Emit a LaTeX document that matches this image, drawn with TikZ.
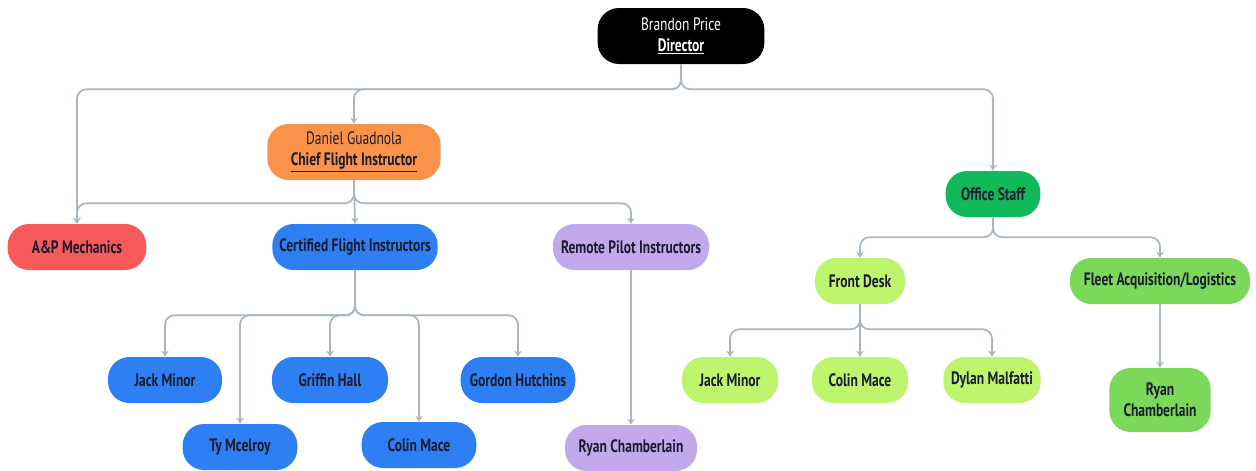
\documentclass[tikz,border=0pt]{standalone}
\usepackage{fontspec}
\setmainfont{PT Sans}[FakeStretch=0.75]
\usetikzlibrary{arrows.meta}
\definecolor{txt}{HTML}{1B1B2F}
\definecolor{lc}{HTML}{AAB6C0}
\definecolor{orng}{HTML}{F9934A}
\definecolor{rd}{HTML}{F75A5A}
\definecolor{bl}{HTML}{2D7FF3}
\definecolor{lav}{HTML}{C3A9EC}
\definecolor{dgrn}{HTML}{10B95A}
\definecolor{lgrn}{HTML}{BEF56C}
\definecolor{mgrn}{HTML}{7BD858}
\begin{document}
\begin{tikzpicture}[x=0.75pt,y=-0.75pt,
  box/.style={rounded corners=16pt, minimum height=34.5pt, inner sep=2pt, align=center,
    font=\bfseries\fontsize{13.5}{15.5}\selectfont, text=txt},
  conn/.style={draw=lc, line width=1.3pt, rounded corners=7pt, -{Stealth[length=4.5pt,width=5.5pt]}}]
\useasboundingbox (0,0) rectangle (1256,471);
% nodes
\node[box, fill=black, text=white, minimum width=125pt, minimum height=42pt] (dir) at (681,36) {\mdseries Brandon Price\\\underline{Director}};
\node[box, fill=orng, minimum width=130pt, minimum height=42pt] (dan) at (354,152) {\mdseries Daniel Guadnola\\\underline{Chief Flight Instructor}};
\node[box, fill=rd, minimum width=104pt] (ap) at (77,247) {A\&P Mechanics};
\node[box, fill=bl, minimum width=124pt] (cfi) at (355,247) {Certified Flight Instructors};
\node[box, fill=lav, minimum width=117pt] (rpi) at (631,247) {Remote Pilot Instructors};
\node[box, fill=dgrn, minimum width=71pt] (off) at (993,194) {Office Staff};
\node[box, fill=lgrn, minimum width=67.5pt] (fd) at (860,281) {Front Desk};
\node[box, fill=mgrn, minimum width=135pt] (fleet) at (1160,281) {Fleet Acquisition/Logistics};
\node[box, fill=bl, minimum width=85.5pt] (jm1) at (165,380) {Jack Minor};
\node[box, fill=bl, minimum width=86pt] (ty) at (240,447) {Ty Mcelroy};
\node[box, fill=bl, minimum width=87pt] (gh) at (330,380) {Griffin Hall};
\node[box, fill=bl, minimum width=86pt] (cm1) at (419,445) {Colin Mace};
\node[box, fill=bl, minimum width=86pt] (gho) at (518,380) {Gordon Hutchins};
\node[box, fill=lav, minimum width=99pt] (rc1) at (631,448) {Ryan Chamberlain};
\node[box, fill=lgrn, minimum width=72pt] (jm2) at (730,380) {Jack Minor};
\node[box, fill=lgrn, minimum width=72pt] (cm2) at (860,380) {Colin Mace};
\node[box, fill=lgrn, minimum width=73pt] (dm) at (992,380) {Dylan Malfatti};
\node[box, fill=mgrn, minimum width=76pt, minimum height=48pt] (rc2) at (1160,400) {Ryan\\Chamberlain};
% connectors
\draw[conn] (dir.south) -- ++(0,25) -| (ap.north);
\draw[conn] (dir.south) -- ++(0,25) -| (dan.north);
\draw[conn] (dir.south) -- ++(0,25) -| (off.north);
\draw[conn] (dan.south) -- ++(0,23) -| (ap.north);
\draw[conn] (dan.south) -- (cfi.north);
\draw[conn] (dan.south) -- ++(0,23) -| (rpi.north);
\draw[conn] (cfi.south) -- ++(0,45) -| (jm1.north);
\draw[conn] (cfi.south) -- ++(0,45) -| (ty.north);
\draw[conn] (cfi.south) -- ++(0,45) -| (gh.north);
\draw[conn] (cfi.south) -- ++(0,45) -| (cm1.north);
\draw[conn] (cfi.south) -- ++(0,45) -| (gho.north);
\draw[conn] (rpi.south) -- (rc1.north);
\draw[conn] (off.south) -- ++(0,20) -| (fd.north);
\draw[conn] (off.south) -- ++(0,20) -| (fleet.north);
\draw[conn] (fd.south) -- ++(0,25) -| (jm2.north);
\draw[conn] (fd.south) -- (cm2.north);
\draw[conn] (fd.south) -- ++(0,25) -| (dm.north);
\draw[conn] (fleet.south) -- (rc2.north);
\end{tikzpicture}
\end{document}
